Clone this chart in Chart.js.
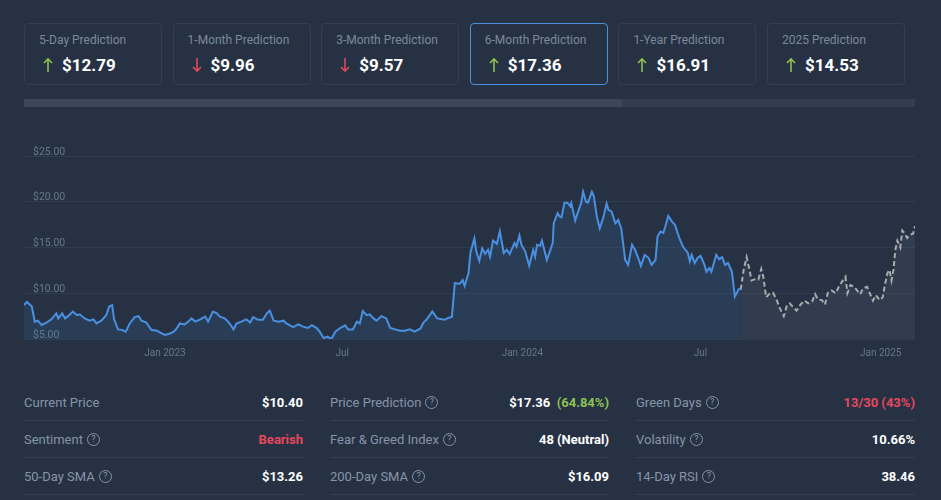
<!DOCTYPE html>
<html>
<head>
<meta charset="utf-8">
<script src="https://cdn.jsdelivr.net/npm/chart.js@4.4.1/dist/chart.umd.min.js"></script>
<style>
  html, body { margin: 0; padding: 0; }
  body { width: 941px; height: 500px; background: #263244; font-family: Roboto, 'Noto Sans', sans-serif; position: relative; overflow: hidden; }
  .cards { position: absolute; left: 24px; top: 23px; display: flex; gap: 10.6px; }
  .card { width: 138px; height: 62px; box-sizing: border-box; border: 1px solid #323e51; border-radius: 4px; position: relative; }
  .card.active { border-color: #4a8fdc; }
  .card .lbl { position: absolute; left: 14px; top: 9px; font-size: 12px; line-height: 14px; color: #7a899e; white-space: nowrap; }
  .card .val { position: absolute; left: 18px; top: 31px; height: 20px; display: flex; align-items: center; font-size: 17px; font-weight: 700; color: #fff; }
  .card .val svg { margin-right: 9px; }
  .bar { position: absolute; left: 24px; top: 99px; width: 891px; height: 8px; background: #323d4f; }
  .bar div { width: 598px; height: 100%; background: #3e4759; }
  .chartbox { position: absolute; left: 24px; top: 130px; width: 891px; height: 240px; }
  .col { position: absolute; top: 384px; width: 279px; }
  .row { height: 36px; border-bottom: 1px solid #344052; display: flex; align-items: center; justify-content: space-between; font-size: 13px; }
  .row .k { color: #8694a8; display: flex; align-items: center; }
  .row .v { color: #fff; font-weight: 700; }
  .q { display: inline-block; width: 11px; height: 11px; border: 1px solid #8694a8; border-radius: 50%; font-size: 9px; line-height: 11px; text-align: center; margin-left: 4px; }
  .red { color: #e8475c !important; }
  .green { color: #8cc152; }
</style>
</head>
<body>
<div class="cards" id="cards"></div>
<div class="bar"><div></div></div>
<div class="chartbox"><canvas id="chart"></canvas></div>
<div class="col" style="left:24px">
  <div class="row"><span class="k">Current Price</span><span class="v">$10.40</span></div>
  <div class="row"><span class="k">Sentiment<span class="q">?</span></span><span class="v red">Bearish</span></div>
  <div class="row"><span class="k">50-Day SMA<span class="q">?</span></span><span class="v">$13.26</span></div>
</div>
<div class="col" style="left:330px">
  <div class="row"><span class="k">Price Prediction<span class="q">?</span></span><span class="v">$17.36 &nbsp;<span class="green">(64.84%)</span></span></div>
  <div class="row"><span class="k">Fear &amp; Greed Index<span class="q">?</span></span><span class="v">48 (Neutral)</span></div>
  <div class="row"><span class="k">200-Day SMA<span class="q">?</span></span><span class="v">$16.09</span></div>
</div>
<div class="col" style="left:636px">
  <div class="row"><span class="k">Green Days<span class="q">?</span></span><span class="v red">13/30 (43%)</span></div>
  <div class="row"><span class="k">Volatility<span class="q">?</span></span><span class="v">10.66%</span></div>
  <div class="row"><span class="k">14-Day RSI<span class="q">?</span></span><span class="v">38.46</span></div>
</div>
<script>
'use strict';

// Tarjetas de predicción
const cardLabels = ['5-Day Prediction', '1-Month Prediction', '3-Month Prediction', '6-Month Prediction', '1-Year Prediction', '2025 Prediction'];
const cardValues = [12.79, 9.96, 9.57, 17.36, 16.91, 14.53];
const cardUp     = [true, false, false, true, true, true];

// Días desde el 10/08/2022
const histDays = [0,3,8,11,14,18,23,28,33,35,39,42,45,50,54,57,62,67,71,74,79,84,87,90,92,96,100,104,108,113,117,120,125,130,136,141,144,149,153,156,159,164,168,171,175,180,185,188,193,197,200,205,210,214,217,222,227,231,234,239,244,248,251,255,260,265,268,275,280,285,290,294,299,302,306,310,314,318,323,328,331,336,340,343,346,350,353,357,360,365,370,374,379,384,389,394,399,405,408,411,417,422,427,430,433,437,440,445,448,450,454,456,460,462,465,468,471,474,476,479,483,486,490,493,496,501,503,506,508,512,516,520,522,524,527,529,531,534,537,540,541,545,547,549,552,555,558,559,563,566,569,571,574,576,580,582,585,588,592,595,597,600,604,607,609,610,614,617,621,624,628,630,634,638,641,645,647,650,653,655,658,662,665,667,670,673,678,680,682,685,688,691,695,697,700,702,707,710,713,716,719,723,726,730,732];
const histPrice = [8.72,9.05,8.54,6.9,7.0,6.53,6.8,7.15,7.8,7.25,7.8,7.25,7.5,8.0,7.6,7.7,7.25,7.0,7.15,6.7,7.0,7.6,8.55,8.7,7.15,6.05,6.0,5.8,6.7,7.4,7.5,7.0,6.8,6.0,5.9,5.6,5.45,5.6,5.8,6.15,6.7,6.6,6.9,7.25,6.9,7.15,7.45,6.9,8.0,7.8,7.45,7.25,6.7,6.05,6.7,6.9,7.15,6.8,7.4,7.1,7.1,7.8,8.1,7.0,6.9,7.0,6.7,6.3,6.6,6.35,6.2,6.5,6.2,5.8,5.1,5.25,5.0,5.8,6.2,6.5,6.05,6.05,6.9,6.7,8.05,7.6,7.7,7.25,7.0,7.5,7.25,6.2,6.05,5.9,5.9,6.05,5.8,6.15,6.8,7.1,8.0,7.25,7.15,7.1,7.3,7.4,11.1,11.05,11.45,10.8,12.2,14.45,16.0,14.55,13.55,14.9,14.3,14.75,14.0,15.75,15.4,16.75,14.4,14.75,14.3,15.5,15.1,16.3,15.3,14.55,13.0,14.75,14.0,15.3,15.2,15.75,14.9,13.65,14.55,15.5,17.65,18.75,18.4,18.3,19.9,19.9,19.5,19.85,17.95,18.95,19.85,21.1,20.0,19.9,21.1,20.6,18.4,17.1,18.4,19.8,19.1,18.95,17.65,18.0,17.35,17.1,13.65,13.1,15.3,14.75,13.65,13.0,14.2,13.85,13.1,13.65,16.2,16.75,16.6,17.3,18.45,17.8,17.45,16.75,15.85,15.1,14.4,13.5,14.2,13.3,13.85,14.1,13.1,12.35,12.75,12.35,14.2,13.7,13.95,13.1,13.3,12.35,9.65,10.45,10.4];

const predDays  = [732,735,738,741,743,747,750,753,755,758,761,765,768,772,776,779,782,786,789,793,797,801,805,808,811,815,818,821,825,829,833,839,841,844,848,851,854,857,861,863,867,870,874,877,879,882,884,886,888,890,892,895,897,900,902,905,908,910];
const predPrice = [10.4,12.55,13.95,12.55,11.4,11.55,11.5,12.65,11.85,9.55,9.9,10.05,9.45,8.35,7.5,8.6,8.9,8.45,8.1,8.75,9.2,8.9,9.1,9.9,9.3,9.25,8.75,10.05,10.3,10.0,10.9,11.8,10.0,10.9,10.7,10.3,9.9,10.55,10.7,10.2,9.2,9.8,9.25,9.55,10.8,12.25,12.55,11.4,12.55,14.8,15.75,15.0,16.85,16.5,16.05,16.4,16.5,17.36];

const tickDays   = [144, 325, 509, 691, 875];
const tickLabels = ['Jan 2023', 'Jul', 'Jan 2024', 'Jul', 'Jan 2025'];
const yTicks     = [5, 10, 15, 20, 25];

const TEXT_DIM = '#66768c';
const GRID     = '#303c4f';

function arrow(up) {
  const c = up ? '#8fbf4d' : '#e0475b';
  const p = up ? 'M5 15 V2 M1 6 L5 2 L9 6' : 'M5 1 V14 M1 10 L5 14 L9 10';
  return `<svg width="10" height="16" viewBox="0 0 10 16"><path d="${p}" stroke="${c}" stroke-width="1.6" fill="none"/></svg>`;
}

document.getElementById('cards').innerHTML = cardLabels.map((l, i) =>
  `<div class="card${i === 3 ? ' active' : ''}"><div class="lbl">${l}</div>` +
  `<div class="val">${arrow(cardUp[i])}$${cardValues[i].toFixed(2)}</div></div>`).join('');

const pts = (xs, ys) => xs.map((d, i) => ({ x: d, y: ys[i] }));

new Chart(document.getElementById('chart'), {
  type: 'line',
  data: {
    datasets: [{
      data: pts(histDays, histPrice),
      borderColor: '#4a90e2', borderWidth: 2,
      backgroundColor: 'rgba(74,144,226,0.12)',
      fill: 'start', pointRadius: 0, tension: 0,
    }, {
      data: pts(predDays, predPrice),
      borderColor: '#a9abad', borderWidth: 2, borderDash: [5, 3],
      backgroundColor: 'rgba(170,175,185,0.09)',
      fill: 'start', pointRadius: 0, tension: 0,
    }],
  },
  options: {
    responsive: true, maintainAspectRatio: false, animation: false,
    layout: { padding: { top: 26, bottom: 10, left: 0, right: 0 } },
    plugins: { legend: { display: false }, tooltip: { enabled: false } },
    scales: {
      x: {
        type: 'linear', min: 0, max: 910,
        grid: { display: false, drawTicks: false }, border: { display: false },
        afterBuildTicks: (ax) => { ax.ticks = tickDays.map(v => ({ value: v })); },
        afterFit: (ax) => { ax.height = 21; ax.paddingLeft = 0; ax.paddingRight = 0; },
        ticks: {
          color: TEXT_DIM, font: { family: 'Roboto', size: 10 }, padding: 8, maxRotation: 0, autoSkip: false,
          callback: (v) => tickLabels[tickDays.indexOf(v)],
        },
      },
      y: {
        min: 5, max: 25,
        grid: { color: GRID, drawTicks: false }, border: { display: false },
        afterBuildTicks: (ax) => { ax.ticks = yTicks.map(v => ({ value: v })); },
        afterFit: (ax) => { ax.width = 0; ax.paddingTop = 0; ax.paddingBottom = 0; },
        ticks: {
          mirror: true, padding: 9, labelOffset: -4,
          color: TEXT_DIM, font: { family: 'Roboto', size: 10.5 },
          callback: (v) => '$' + v.toFixed(2),
        },
      },
    },
  },
});
</script>
</body>
</html>
